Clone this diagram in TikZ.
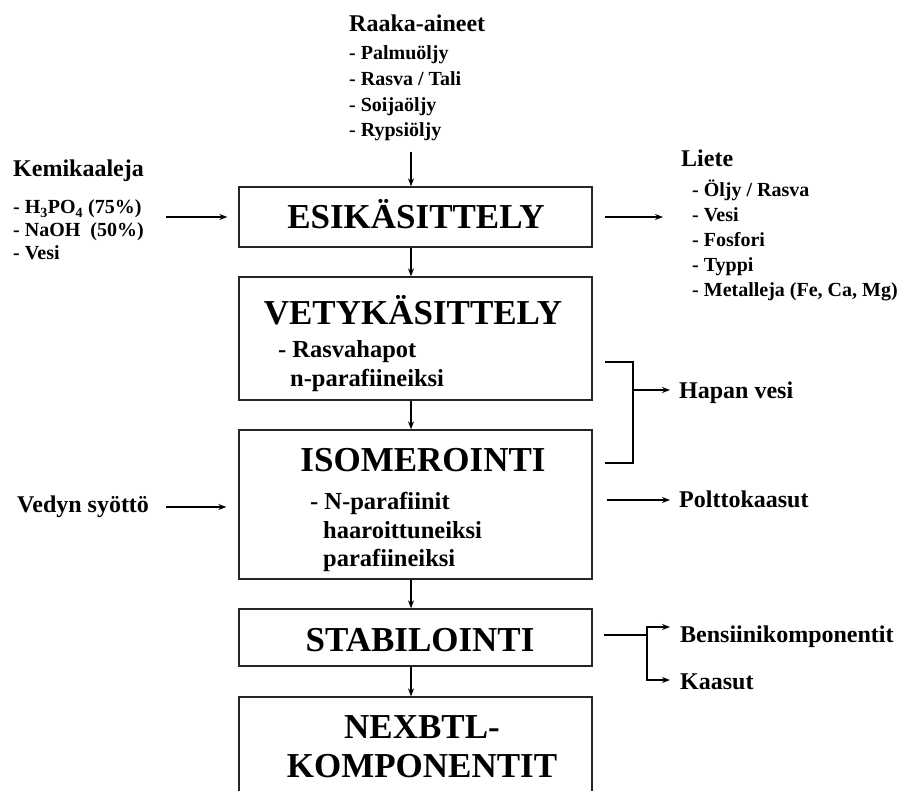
\documentclass[tikz,border=0pt]{standalone}
\usepackage{fontspec}
\setmainfont{Liberation Serif}
\usetikzlibrary{arrows.meta}
\tikzset{
  box/.style={draw=black!85, line width=1.3pt, minimum width=353pt, inner sep=0pt},
  ttl/.style={font=\bfseries\fontsize{35}{38}\selectfont, inner sep=0pt, anchor=base},
  sub/.style={font=\bfseries\fontsize{24.5}{28}\selectfont, inner sep=0pt, anchor=base west},
  hd/.style={font=\bfseries\fontsize{24}{28}\selectfont, inner sep=0pt, anchor=base west},
  itm/.style={font=\bfseries\fontsize{20}{24}\selectfont, inner sep=0pt, anchor=base west},
  flow/.style={-{Stealth[length=8pt,width=6pt]}, line width=1.3pt},
  ln/.style={line width=1.3pt}
}
\begin{document}
\begin{tikzpicture}[x=1pt,y=-1pt]
\useasboundingbox (0,0) rectangle (901,791);
\path (415.5,217) node[box, minimum height=60pt] (esi) {}
      (415.5,338.5) node[box, minimum height=123pt] (vety) {}
      (415.5,504.5) node[box, minimum height=149pt] (iso) {}
      (415.5,637.5) node[box, minimum height=57pt] (stab) {}
      (415.5,780) node[box, minimum height=166pt] (nex) {};
\path (416,229) node[ttl] (esit) {ESIKÄSITTELY}
      (413,324) node[ttl] (vetyt) {VETYKÄSITTELY}
      (278,357) node[sub] (vety1) {- Rasvahapot}
      (290,386) node[sub] (vety2) {n-parafiineiksi}
      (423,471) node[ttl] (isot) {ISOMEROINTI}
      (310,509) node[sub] (iso1) {- N-parafiinit}
      (323,538) node[sub] (iso2) {haaroittuneiksi}
      (323,566) node[sub] (iso3) {parafiineiksi}
      (420,651) node[ttl] (stabt) {STABILOINTI}
      (422,738) node[ttl] (nex1) {NEXBTL-}
      (422,777) node[ttl] (nex2) {KOMPONENTIT};
\path (349,32) node[hd] (raaka) {Raaka-aineet}
      (13,177) node[hd] (kemi) {Kemikaaleja}
      (681,167) node[hd] (liete) {Liete}
      (17,512) node[hd] (vedyn) {Vedyn syöttö}
      (679,398) node[hd] (hapan) {Hapan vesi}
      (679,507) node[hd] (poltto) {Polttokaasut}
      (680,642) node[hd] (bens) {Bensiinikomponentit}
      (680,689) node[hd] (kaasut) {Kaasut};
\foreach \t [count=\i from 0] in {- Palmuöljy, - Rasva / Tali, - Soijaöljy, - Rypsiöljy}
  \node[itm] (ra\i) at (349,60+25.6*\i) {\t};
\foreach \t [count=\i from 0] in {- H\textsubscript{3}PO\textsubscript{4} (75\%), - NaOH~ (50\%), - Vesi}
  \node[itm] (ke\i) at (13,214+23*\i) {\t};
\foreach \t [count=\i from 0] in {- Öljy / Rasva, - Vesi, - Fosfori, - Typpi, {- Metalleja (Fe, Ca, Mg)}}
  \node[itm] (li\i) at (692,197+25*\i) {\t};
\coordinate (rain) at (411,152);
\coordinate (kein) at (166,217);
\coordinate (liout) at (605,217);
\coordinate (liend) at (663,217);
\coordinate (hv1) at (605,362);
\coordinate (hv2) at (633,362);
\coordinate (hv3) at (633,463);
\coordinate (hv4) at (605,463);
\coordinate (hvm) at (633,390);
\coordinate (hvend) at (670,390);
\coordinate (ve) at (166,507);
\coordinate (po1) at (607,500);
\coordinate (po2) at (670,500);
\coordinate (st1) at (604,635);
\coordinate (st2) at (647,635);
\coordinate (st3) at (647,627);
\coordinate (st4) at (647,680);
\coordinate (st5) at (670,627);
\coordinate (st6) at (670,680);
\draw[flow] (rain) -- ([xshift=-4.5pt]esi.north);
\draw[flow] ([xshift=-4.5pt]esi.south) -- ([xshift=-4.5pt]vety.north);
\draw[flow] ([xshift=-4.5pt]vety.south) -- ([xshift=-4.5pt]iso.north);
\draw[flow] ([xshift=-4.5pt]iso.south) -- ([xshift=-4.5pt]stab.north);
\draw[flow] ([xshift=-4.5pt]stab.south) -- ([xshift=-4.5pt]nex.north);
\draw[flow] (kein) -- ([xshift=-11pt]kein -| esi.west);
\draw[flow] (liout) -- (liend);
\draw[ln] (hv1) -- (hv2) -- (hv3) -- (hv4);
\draw[flow] (hvm) -- (hvend);
\draw[flow] (ve) -- ([xshift=-12pt]ve -| iso.west);
\draw[flow] (po1) -- (po2);
\draw[ln] (st1) -- (st2);
\draw[flow] (st4) -- (st3) -- (st5);
\draw[flow] (st3) -- (st4) -- (st6);
\end{tikzpicture}
\end{document}
